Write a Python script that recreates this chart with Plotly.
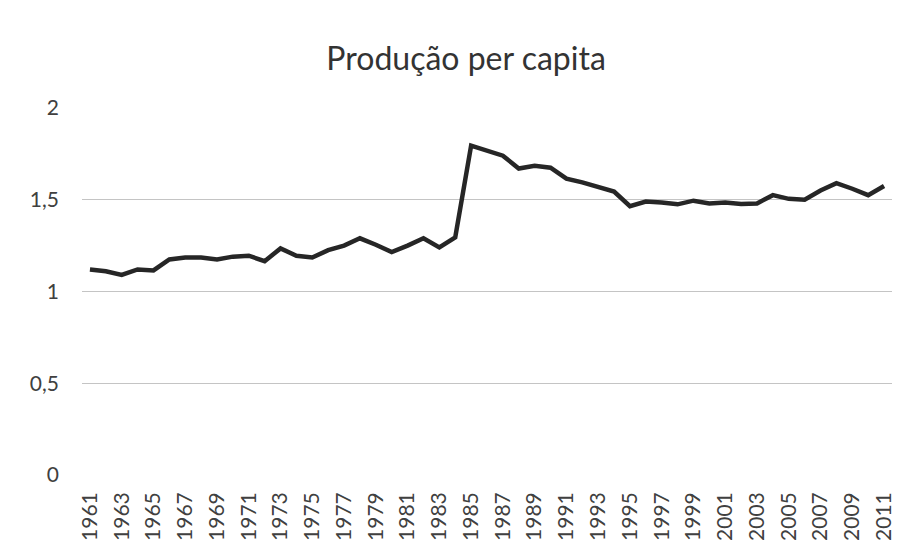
import plotly.graph_objects as go

# anos e producao per capita
anos = list(range(1961, 2012))
producao = [
    1.12, 1.11, 1.09, 1.12, 1.115, 1.175, 1.185, 1.185, 1.175, 1.19,
    1.195, 1.165, 1.235, 1.195, 1.185, 1.225, 1.25, 1.29, 1.255, 1.215,
    1.25, 1.29, 1.24, 1.295, 1.795, 1.77, 1.74, 1.67, 1.685, 1.675,
    1.615, 1.595, 1.57, 1.545, 1.465, 1.49, 1.485, 1.475, 1.495, 1.48,
    1.485, 1.477, 1.48, 1.525, 1.505, 1.5, 1.55, 1.59, 1.56, 1.525,
    1.575,
]
x_ticks = list(range(1961, 2012, 2))
y_ticks = [0, 0.5, 1, 1.5, 2]
y_labels = ["0", "0,5", "1", "1,5", "2"]

fig = go.Figure()
fig.add_trace(go.Scatter(
    x=anos,
    y=producao,
    mode="lines",
    line=dict(color="#262626", width=4.5),
    showlegend=False,
))

# a pagina tem 8px de margem no body, por isso 900x547
fig.update_layout(
    width=900, height=547,
    paper_bgcolor="white", plot_bgcolor="white",
    margin=dict(l=74, r=16, t=100, b=80),
    font=dict(family="Lato", color="#404040", size=16),
    title=dict(text="Produção per capita", x=0.509, xanchor="center",
               y=0.908, yanchor="middle",
               font=dict(size=32, color="#333333")),
)
fig.update_xaxes(
    range=[1960.5, 2011.5],
    tickvals=x_ticks,
    ticktext=[str(a) for a in x_ticks],
    tickangle=-90,
    showgrid=False,
    zeroline=False,
    automargin=False,
    ticklabelstandoff=12,
    tickfont=dict(size=21, color="#404040"),
)
fig.update_yaxes(
    range=[0, 2],
    tickvals=y_ticks,
    ticktext=y_labels,
    showgrid=True,
    gridcolor="#c4c4c4",
    gridwidth=1,
    zeroline=False,
    automargin=False,
    ticklabelstandoff=22,
    tickfont=dict(size=21, color="#404040"),
)

fig.write_html("out.html")
